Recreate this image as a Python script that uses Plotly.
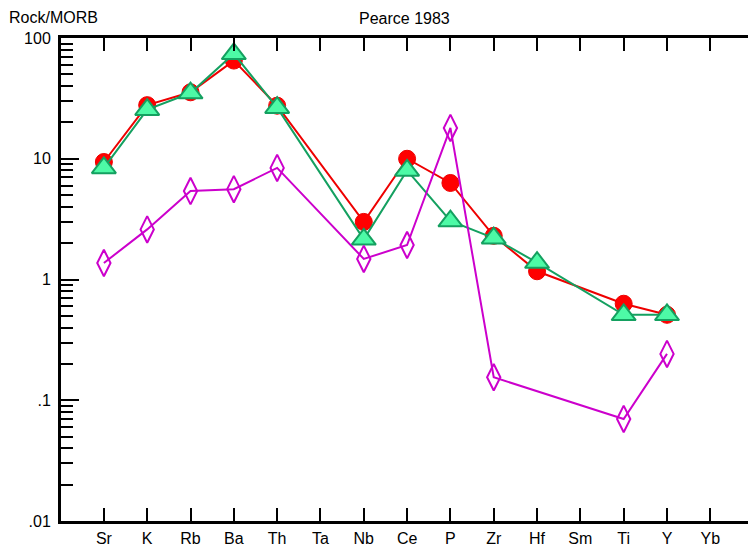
import plotly.graph_objects as go

elements = ["Sr", "K", "Rb", "Ba", "Th", "Ta", "Nb", "Ce", "P", "Zr", "Hf", "Sm", "Ti", "Y", "Yb"]
red_vals = [9.4, 27.8, 35.5, 65.0, 27.5, None, 3.0, 10.0, 6.3, 2.3, 1.17, None, 0.63, 0.51, None]
green_vals = [8.4, 25.5, 35.0, 74.0, 26.5, None, 2.15, 8.0, 3.05, 2.2, 1.38, None, 0.51, 0.51, None]
magenta_vals = [1.37, 2.6, 5.4, 5.6, 8.4, None, 1.48, 1.93, 18.0, 0.155, None, None, 0.070, 0.242, None]

y_tickvals = [0.01, 0.1, 1, 10, 100]
y_ticktext = [".01", ".1", "1", "10", "100"]
minor_vals = [m * 10 ** e for e in range(-2, 2) for m in range(2, 10)]

xidx = list(range(len(elements)))

fig = go.Figure()
fig.add_trace(go.Scatter(
    x=xidx, y=red_vals, mode="lines+markers", connectgaps=True,
    line=dict(color="#ee0000", width=2),
    marker=dict(symbol="circle", size=17, color="#ff0000", line=dict(color="#ee0000", width=1)),
))
fig.add_trace(go.Scatter(
    x=xidx, y=green_vals, mode="lines+markers", connectgaps=True,
    line=dict(color="#14a060", width=2),
    marker=dict(symbol="triangle-up", size=21, color="#4dfaa6", line=dict(color="#14a060", width=2)),
))
fig.add_trace(go.Scatter(
    x=xidx, y=magenta_vals, mode="lines+markers", connectgaps=True,
    line=dict(color="#cc00cc", width=2),
    marker=dict(symbol="diamond-tall-open", size=19, color="#cc00cc", line=dict(color="#cc00cc", width=2)),
))

yaxis_common = dict(
    type="log", range=[-2, 2], tickmode="array", tickvals=y_tickvals,
    ticks="inside", ticklen=18, tickwidth=2, tickcolor="black",
    showline=True, linewidth=3, linecolor="black",
    showgrid=False, zeroline=False,
    minor=dict(tickmode="array", tickvals=minor_vals, ticks="inside", ticklen=12,
               tickwidth=2, tickcolor="black", showgrid=False),
)

fig.update_layout(
    width=749, height=550,
    margin=dict(l=61, r=1, t=38, b=29),
    paper_bgcolor="white", plot_bgcolor="white",
    showlegend=False,
    font=dict(family="Liberation Sans, Arial, sans-serif", size=16, color="black"),
    xaxis=dict(
        range=[-0.99, 14.87], tickmode="array", tickvals=xidx, ticktext=elements,
        ticks="inside", ticklen=13, tickwidth=2, tickcolor="black",
        showline=True, linewidth=3, linecolor="black", mirror="ticks",
        showgrid=False, zeroline=False,
        tickfont=dict(family="Liberation Sans Narrow, Arial Narrow, Liberation Sans, sans-serif", size=16),
        ticklabelstandoff=1,
    ),
    yaxis=dict(**yaxis_common, ticktext=y_ticktext, ticklabelstandoff=4),
    yaxis2=dict(**yaxis_common, overlaying="y", side="right", showticklabels=False, anchor="x"),
    annotations=[
        dict(text="Pearce 1983", xref="paper", yref="paper", x=0.5, y=1, yshift=20,
             showarrow=False, xanchor="center", yanchor="middle", font=dict(size=16)),
        dict(text="Rock/MORB", xref="paper", yref="paper", x=0, xshift=-54, y=1, yshift=21,
             showarrow=False, xanchor="left", yanchor="middle", font=dict(size=16)),
    ],
)

fig.write_html("out.html", config={"displayModeBar": False},
               post_script="document.body.style.margin='0';document.body.style.padding='0';")
